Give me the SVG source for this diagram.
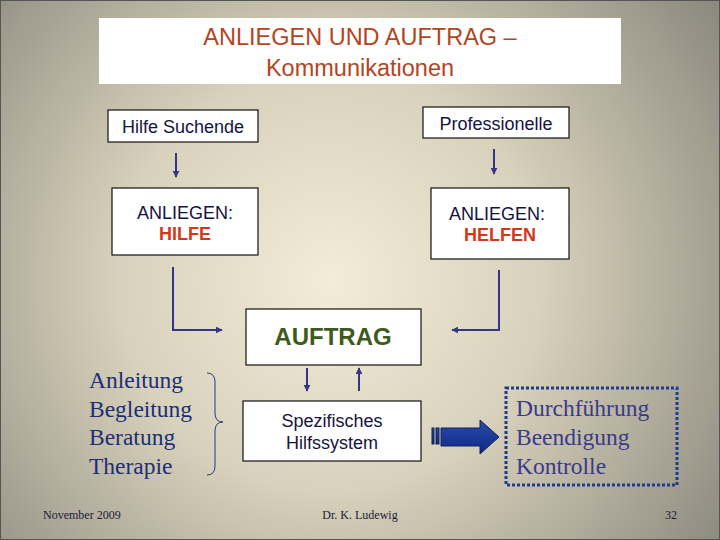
<svg xmlns="http://www.w3.org/2000/svg" width="720" height="540" viewBox="0 0 720 540">
<defs>
<radialGradient id="bg" cx="330" cy="280" r="470" gradientUnits="userSpaceOnUse">
<stop offset="0" stop-color="#f3edd8"/>
<stop offset="0.45" stop-color="#d8d1bb"/>
<stop offset="1" stop-color="#8d8a7f"/>
</radialGradient>
<linearGradient id="blk" x1="0" y1="0" x2="0" y2="1">
<stop offset="0" stop-color="#2a4cb0"/>
<stop offset="1" stop-color="#0d2a80"/>
</linearGradient>
<marker id="ah" viewBox="0 0 10 10" refX="9" refY="5" markerWidth="3.5" markerHeight="3.5" orient="auto" markerUnits="strokeWidth">
<path d="M0,0 L10,5 L0,10 z" fill="#353585"/>
</marker>
<style>
.box{fill:#fff;stroke:#111;stroke-width:1.2}
.sans{font-family:"Liberation Sans",Arial,sans-serif}
.serif{font-family:"Liberation Serif","Times New Roman",serif}
.lbl{font-size:18px;fill:#141440}
.red{font-size:18px;font-weight:bold;fill:#d4381a}
.list{font-size:23.5px;fill:#1c2e78}
.list2{font-size:23.5px;fill:#3a3a8a}
.foot{font-size:12px;fill:#1a1a3a}
.conn{fill:none;stroke:#353585;stroke-width:2;marker-end:url(#ah)}
</style>
</defs>
<rect x="0" y="0" width="720" height="540" fill="url(#bg)"/>
<rect x="0.5" y="0.5" width="719" height="539" fill="none" stroke="#555" stroke-width="1"/>

<g id="title">
<rect x="99" y="18" width="522" height="66" fill="#fff"/>
<text class="sans" x="360" y="45" text-anchor="middle" font-size="23.5" fill="#b4441e">ANLIEGEN UND AUFTRAG –</text>
<text class="sans" x="360" y="76" text-anchor="middle" font-size="23.5" fill="#b4441e">Kommunikationen</text>
</g>

<g id="hilfe-suchende">
<rect class="box" x="108" y="110" width="150" height="32"/>
<text class="sans lbl" x="183" y="133" text-anchor="middle">Hilfe Suchende</text>
</g>

<g id="professionelle">
<rect class="box" x="423" y="107" width="146" height="31"/>
<text class="sans lbl" x="496" y="130" text-anchor="middle">Professionelle</text>
</g>

<g id="anliegen-hilfe">
<rect class="box" x="112" y="188" width="146" height="67"/>
<text class="sans lbl" x="185" y="219" text-anchor="middle">ANLIEGEN:</text>
<text class="sans red" x="185" y="240" text-anchor="middle">HILFE</text>
</g>

<g id="anliegen-helfen">
<rect class="box" x="431" y="188" width="138" height="71"/>
<text class="sans lbl" x="497" y="220" text-anchor="middle">ANLIEGEN:</text>
<text class="sans red" x="500" y="241" text-anchor="middle">HELFEN</text>
</g>

<g id="auftrag">
<rect class="box" x="246" y="309" width="175" height="56"/>
<text class="sans" x="333" y="345" text-anchor="middle" font-size="24" font-weight="bold" fill="#3e5a1c">AUFTRAG</text>
</g>

<g id="hilfssystem">
<rect class="box" x="243" y="401" width="178" height="60"/>
<text class="sans lbl" x="332" y="427" text-anchor="middle">Spezifisches</text>
<text class="sans lbl" x="332" y="449" text-anchor="middle">Hilfssystem</text>
</g>

<g id="leistungen">
<text class="serif list" x="89" y="388">Anleitung</text>
<text class="serif list" x="89" y="417">Begleitung</text>
<text class="serif list" x="89" y="445">Beratung</text>
<text class="serif list" x="89" y="474">Therapie</text>
</g>

<g id="ergebnis">
<rect x="506" y="388" width="171" height="97" fill="none" stroke="#1e3c8c" stroke-width="3" stroke-dasharray="3,2"/>
<text class="serif list2" x="516" y="416">Durchführung</text>
<text class="serif list2" x="516" y="445">Beendigung</text>
<text class="serif list2" x="516" y="474">Kontrolle</text>
</g>

<g id="connectors">
<path class="conn" d="M176,153 V177"/>
<path class="conn" d="M494,149 V174"/>
<path class="conn" d="M173,267 V330 H222"/>
<path class="conn" d="M499,270 V330 H452"/>
<path class="conn" d="M307,368 V391"/>
<path class="conn" d="M359,391 V368"/>
<path d="M207,373 Q215,373 215,382 V413 Q215,422 223,422 Q215,422 215,431 V466 Q215,475 207,475" fill="none" stroke="#2a3a80" stroke-width="1"/>
<g id="block-arrow" stroke="#10205a" stroke-width="1">
<rect x="432" y="428" width="2" height="16" fill="url(#blk)"/>
<rect x="436" y="428" width="3" height="16" fill="url(#blk)"/>
<path d="M441,428 H480 V420 L499,437 L480,454 V446 H441 Z" fill="url(#blk)"/>
</g>
</g>

<g id="footer">
<text class="serif foot" x="43" y="519">November 2009</text>
<text class="serif foot" x="360" y="519" text-anchor="middle">Dr. K. Ludewig</text>
<text class="serif foot" x="677" y="519" text-anchor="end">32</text>
</g>
</svg>
